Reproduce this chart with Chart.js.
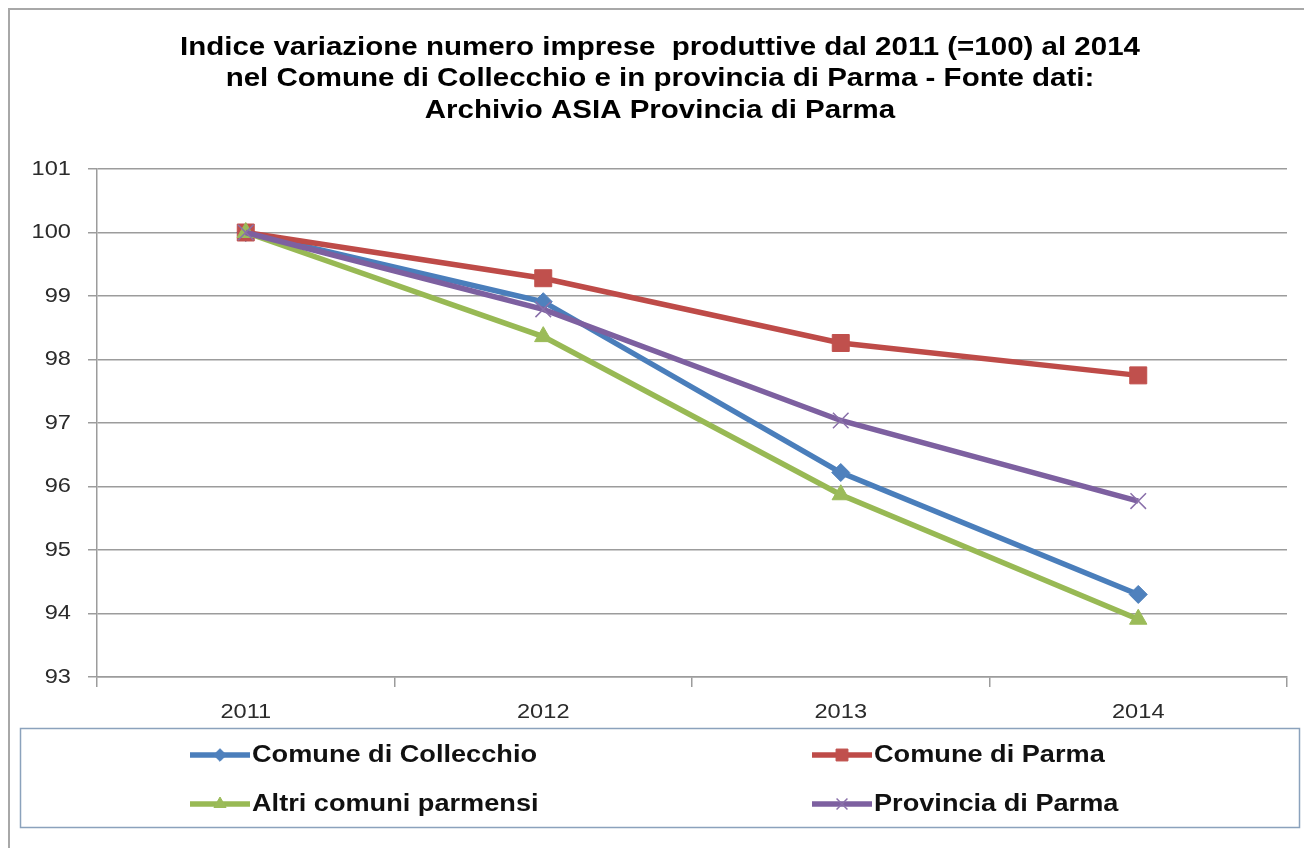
<!DOCTYPE html>
<html>
<head>
<meta charset="utf-8">
<script src="https://cdn.jsdelivr.net/npm/chart.js@4.4.1/dist/chart.umd.min.js"></script>
<style>
  html, body { margin: 0; padding: 0; background: #fff; }
  #wrap { width: 1304px; height: 848px; }
</style>
</head>
<body>
<div id="wrap"><canvas id="chart"></canvas></div>
<script>
const years = ['2011', '2012', '2013', '2014'];
const collecchio = [100, 98.91, 96.22, 94.30];
const parmaCity = [100, 99.28, 98.26, 97.75];
const altriComuni = [100, 98.36, 95.87, 93.91];
const provincia = [100, 98.79, 97.04, 95.77];
const seriesNames = ['Comune di Collecchio', 'Comune di Parma', 'Altri comuni parmensi', 'Provincia di Parma'];
const yMin = 93;
const yMax = 101;
const titleLines = [
  'Indice variazione numero imprese  produttive dal 2011 (=100) al 2014',
  'nel Comune di Collecchio e in provincia di Parma - Fonte dati:',
  'Archivio ASIA Provincia di Parma'
];

const FONT = '"Liberation Sans", Arial, sans-serif';
const GRID = '#9c9c9c';
// the source picture is stretched sideways, text included
const STRETCH = 1.18;

function wideText(ctx, text, x, y, align) {
  ctx.save();
  ctx.translate(x, y);
  ctx.scale(STRETCH, 1);
  ctx.textAlign = align;
  ctx.fillText(text, 0, 0);
  ctx.restore();
}

const frame = {
  id: 'frame',
  beforeDraw(chart) {
    const ctx = chart.ctx;
    ctx.save();
    ctx.fillStyle = '#fff';
    ctx.fillRect(0, 0, chart.width, chart.height);
    ctx.strokeStyle = '#a8a8a8';
    ctx.lineWidth = 2;
    ctx.beginPath();
    ctx.moveTo(9, chart.height + 5);
    ctx.lineTo(9, 9);
    ctx.lineTo(chart.width + 5, 9);
    ctx.stroke();
    ctx.restore();
  }
};

const texts = {
  id: 'texts',
  afterDraw(chart) {
    const ctx = chart.ctx;
    ctx.save();
    ctx.textBaseline = 'middle';
    // title
    ctx.fillStyle = '#000';
    ctx.font = 'bold 25px ' + FONT;
    titleLines.forEach((line, i) => wideText(ctx, line, 660, 48 + i * 31.5, 'center'));
    // tick labels, placed by the chart's own scales
    ctx.fillStyle = '#2b2b2b';
    ctx.font = '20px ' + FONT;
    const ys = chart.scales.y;
    ys.ticks.forEach(t => wideText(ctx, String(t.value), ys.right - 26, ys.getPixelForValue(t.value), 'right'));
    const xs = chart.scales.x;
    chart.data.labels.forEach((lab, i) => wideText(ctx, lab, xs.getPixelForTick(i), xs.top + 35, 'center'));
    ctx.restore();
  }
};

const boxLegend = {
  id: 'boxLegend',
  afterDraw(chart) {
    const ctx = chart.ctx;
    ctx.save();
    ctx.strokeStyle = '#8ba2bc';
    ctx.lineWidth = 1.5;
    ctx.strokeRect(20.5, 728.5, 1279, 99);
    const slots = [[190, 755], [812, 755], [190, 804], [812, 804]];
    chart.data.datasets.forEach((ds, i) => {
      const [x, y] = slots[i];
      ctx.strokeStyle = ds.borderColor;
      ctx.lineWidth = ds.borderWidth;
      ctx.beginPath();
      ctx.moveTo(x, y);
      ctx.lineTo(x + 60, y);
      ctx.stroke();
      ctx.fillStyle = ds.pointBackgroundColor;
      ctx.strokeStyle = ds.pointBorderColor;
      ctx.lineWidth = ds.pointBorderWidth;
      Chart.helpers.drawPoint(ctx, {
        pointStyle: ds.pointStyle,
        radius: ds.pointRadius * 0.7,
        rotation: 0,
        borderWidth: ds.pointBorderWidth
      }, x + 30, y);
      ctx.fillStyle = '#111';
      ctx.font = 'bold 23px ' + FONT;
      ctx.textBaseline = 'middle';
      wideText(ctx, ds.label, x + 62, y + 1, 'left');
    });
    ctx.restore();
  }
};

const datasets = [
  {
    label: seriesNames[0], data: collecchio, order: 3,
    borderColor: '#4A7EBB', borderWidth: 5.5,
    pointStyle: 'rectRot', pointRadius: 9,
    pointBackgroundColor: '#4F81BD', pointBorderColor: '#4F81BD', pointBorderWidth: 1
  },
  {
    label: seriesNames[1], data: parmaCity, order: 2,
    borderColor: '#BE4B48', borderWidth: 5.5,
    pointStyle: 'rect', pointRadius: 12,
    pointBackgroundColor: '#C0504D', pointBorderColor: '#C0504D', pointBorderWidth: 1
  },
  {
    label: seriesNames[2], data: altriComuni, order: 1,
    borderColor: '#98B954', borderWidth: 5.5,
    pointStyle: 'triangle', pointRadius: 10,
    pointBackgroundColor: '#9BBB59', pointBorderColor: '#9BBB59', pointBorderWidth: 1
  },
  {
    label: seriesNames[3], data: provincia, order: 0,
    borderColor: '#7D60A0', borderWidth: 5.5,
    pointStyle: 'crossRot', pointRadius: 11,
    pointBackgroundColor: '#8064A2', pointBorderColor: '#8a70aa', pointBorderWidth: 1.5
  }
];

new Chart(document.getElementById('chart'), {
  type: 'line',
  data: { labels: years, datasets },
  options: {
    responsive: true,
    maintainAspectRatio: false,
    animation: false,
    layout: { padding: { left: 33, right: 17, top: 169, bottom: 0 } },
    scales: {
      x: {
        offset: true,
        grid: {
          offset: true,
          drawOnChartArea: false,
          drawTicks: true,
          tickLength: 10,
          color: GRID,
          lineWidth: 1.5
        },
        border: { color: GRID, width: 1.5 },
        ticks: { display: false },
        afterFit(scale) { scale.height = 171; }
      },
      y: {
        min: yMin,
        max: yMax,
        ticks: { stepSize: 1, display: false },
        grid: { color: GRID, lineWidth: 1.5, tickLength: 9 },
        border: { color: GRID, width: 1.5 },
        afterFit(scale) { scale.width = 64; }
      }
    },
    plugins: {
      legend: { display: false },
      tooltip: { enabled: false },
      title: { display: false }
    }
  },
  plugins: [frame, texts, boxLegend]
});
</script>
</body>
</html>
